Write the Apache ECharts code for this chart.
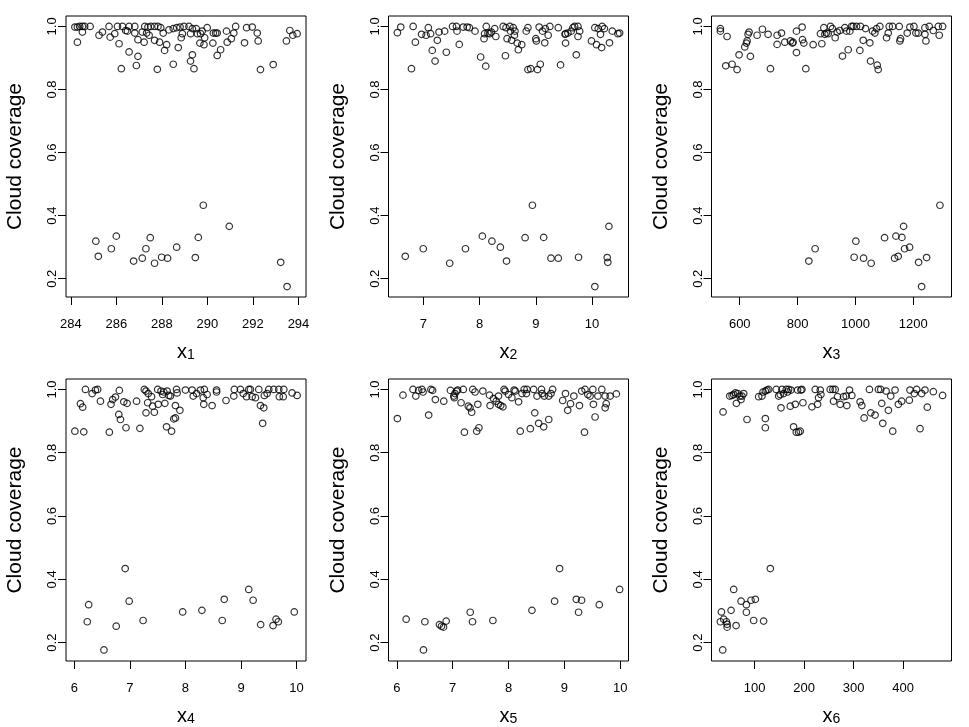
<!DOCTYPE html>
<html><head><meta charset="utf-8">
<script src="https://cdn.jsdelivr.net/npm/echarts@6/dist/echarts.min.js"></script>
<style>html,body{margin:0;padding:0;background:#fff}#c{width:969px;height:727px}</style>
</head><body><div id="c"></div>
<script>
// ---- Data ----
const x1Low=[285.10,285.21,285.78,286.00,286.76,287.14,287.30,287.49,287.68,287.99,288.25,288.65,289.47,289.60,289.82,290.96,293.22,293.50];
const y1Low=[0.319,0.271,0.295,0.335,0.256,0.265,0.295,0.330,0.249,0.268,0.265,0.300,0.267,0.331,0.433,0.366,0.252,0.175];
const x1High=[284.18,284.29,284.39,284.51,284.61,284.85,284.51,284.29,285.24,285.39,285.68,285.73,285.93,286.05,286.27,286.12,286.41,286.49,286.56,286.56,286.81,286.81,286.95,286.95,286.88,286.22,287.14,287.22,287.25,287.39,287.33,287.44,287.51,287.68,287.83,287.95,287.68,287.90,288.06,288.21,288.12,287.80,288.31,288.50,288.65,288.80,288.97,289.19,288.90,288.85,288.72,288.50,289.26,289.34,289.51,289.56,289.70,289.77,289.88,289.34,289.26,289.41,289.67,289.85,289.99,290.26,290.36,290.43,290.24,290.58,290.43,290.84,291.16,291.24,291.05,290.87,291.63,291.72,291.97,292.19,292.23,292.33,292.89,293.47,293.62,293.75,293.94];
const y1High=[0.998,0.998,1.0,1.0,1.0,1.0,0.982,0.950,0.972,0.982,1.0,0.966,0.977,1.0,1.0,0.945,0.987,0.985,1.0,0.919,1.0,0.979,0.958,0.905,0.876,0.866,0.982,0.950,1.0,0.998,0.979,0.972,1.0,1.0,1.0,0.996,0.956,0.950,0.979,0.942,0.924,0.864,0.989,0.993,0.996,0.998,1.0,1.0,0.977,0.964,0.933,0.880,0.977,0.993,0.993,0.977,0.977,0.985,0.964,0.910,0.890,0.866,0.947,0.942,0.996,0.979,0.979,0.979,0.947,0.926,0.908,0.985,0.979,1.0,0.961,0.950,0.948,0.996,0.998,0.979,0.954,0.863,0.879,0.954,0.987,0.972,0.977];

const x2Low=[6.68,7.00,7.47,7.75,8.05,8.22,8.37,8.48,8.81,8.94,9.14,9.27,9.40,9.76,10.05,10.27,10.28,10.30];
const y2Low=[0.271,0.295,0.249,0.295,0.335,0.319,0.300,0.256,0.330,0.433,0.331,0.265,0.265,0.268,0.175,0.267,0.252,0.366];
const x2High=[6.54,6.60,6.82,6.86,6.97,7.05,7.09,7.13,7.16,7.21,7.25,7.28,7.38,7.41,6.79,7.52,7.59,7.60,7.64,7.71,7.78,7.82,7.92,8.02,8.11,8.08,8.09,8.12,8.15,8.18,8.21,8.27,8.29,8.42,8.47,8.46,8.49,8.54,8.55,8.57,8.60,8.63,8.62,8.67,8.75,8.69,8.83,8.86,9.00,9.01,9.06,9.12,9.16,9.17,9.22,9.25,9.40,9.52,9.53,9.53,9.57,9.63,9.66,9.69,9.75,9.72,9.78,9.75,8.86,8.91,9.03,9.08,9.44,9.99,10.08,10.17,10.31,10.05,10.11,10.18,10.15,10.22,10.36,10.46,10.49];
const y2High=[0.980,0.998,1.0,0.950,0.975,0.972,0.996,0.977,0.924,0.890,0.956,0.982,0.985,0.918,0.866,1.0,1.0,0.985,0.943,0.998,0.998,0.996,0.985,0.903,0.874,0.961,0.977,1.0,0.979,0.977,0.982,0.993,0.968,1.0,0.996,0.907,0.961,1.0,0.985,0.956,0.996,0.985,0.972,0.947,0.942,0.926,0.985,0.996,0.961,0.954,0.998,0.985,0.948,0.993,0.972,1.0,0.996,0.975,0.977,0.947,0.979,0.985,0.996,1.0,1.0,0.910,0.985,0.968,0.863,0.866,0.863,0.880,0.878,0.954,0.942,0.933,0.948,0.996,0.993,1.0,0.975,0.993,0.985,0.977,0.979];

const x3Low=[838.8,860.6,995.5,1001.4,1028.0,1054.3,1100.7,1135.3,1139.8,1147.8,1160.6,1166.4,1169.9,1187.2,1218.3,1228.7,1246.0,1292.0];
const y3Low=[0.256,0.295,0.268,0.319,0.265,0.249,0.330,0.265,0.335,0.271,0.331,0.366,0.295,0.300,0.252,0.175,0.267,0.433];
const x3High=[533.1,533.1,556.2,551.6,573.5,590.8,597.7,617.3,623.1,625.4,628.8,632.3,636.9,660.0,678.4,698.0,706.1,729.2,729.2,744.2,755.7,775.3,782.2,784.5,796.1,796.1,815.7,816.8,821.5,828.4,853.7,879.1,883.7,890.7,894.1,899.9,905.7,913.7,920.6,929.9,936.8,946.0,955.2,963.3,969.1,974.9,980.6,986.4,992.2,1003.7,1015.2,1017.5,1026.8,1034.8,1049.8,1052.1,1059.1,1067.1,1072.9,1075.2,1078.7,1084.4,1107.5,1113.3,1116.7,1128.3,1151.3,1155.9,1153.6,1179.0,1188.2,1202.1,1209.0,1217.1,1240.1,1240.1,1243.6,1255.1,1269.0,1286.3,1289.7,1301.3];
const y3High=[0.993,0.985,0.968,0.875,0.880,0.863,0.910,0.935,0.947,0.954,0.975,0.982,0.905,0.972,0.991,0.975,0.866,0.972,0.943,0.979,0.950,0.954,0.947,0.950,0.985,0.917,0.998,0.958,0.947,0.866,0.942,0.977,0.945,0.996,0.975,0.979,0.977,1.0,0.993,0.964,0.982,0.987,0.906,0.996,0.985,0.926,0.985,1.0,1.0,1.0,0.924,1.0,0.956,0.993,0.948,0.890,0.985,0.979,0.993,0.877,0.863,1.0,0.964,0.979,1.0,1.0,1.0,0.961,0.954,0.979,0.998,1.0,0.979,0.979,0.975,0.996,0.954,1.0,0.987,1.0,0.972,1.0];

const x4Low=[6.258,6.233,6.533,6.754,6.915,6.987,7.238,7.950,8.296,8.662,8.698,9.139,9.218,9.354,9.577,9.631,9.672,9.959];
const y4Low=[0.320,0.266,0.177,0.252,0.434,0.331,0.270,0.297,0.302,0.270,0.337,0.368,0.334,0.257,0.254,0.274,0.266,0.297];
const x4High=[6.01,6.17,6.11,6.15,6.20,6.32,6.38,6.42,6.47,6.63,6.66,6.69,6.74,6.80,6.83,6.81,6.89,6.95,6.93,7.12,7.18,7.26,7.29,7.33,7.39,7.41,7.32,7.29,7.44,7.50,7.56,7.59,7.61,7.67,7.70,7.73,7.51,7.63,7.82,7.90,7.79,7.82,7.66,7.75,7.84,7.85,8.00,8.12,8.14,8.20,8.27,8.34,8.32,8.33,8.39,8.48,8.56,8.56,8.73,8.87,8.88,8.99,9.04,9.10,9.14,9.17,9.20,9.26,9.32,9.35,9.41,9.39,9.42,9.47,9.50,9.59,9.68,9.69,9.76,9.77,9.92,10.01];
const y4High=[0.868,0.866,0.955,0.944,1.0,0.987,0.998,1.0,0.963,0.865,0.953,0.968,0.976,0.921,0.905,0.997,0.961,0.956,0.879,0.963,0.877,1.0,0.995,0.987,0.977,0.947,0.958,0.926,0.928,1.0,0.995,0.984,0.992,0.995,0.981,0.979,0.953,0.956,0.949,0.934,0.907,0.910,0.882,0.868,1.0,0.989,0.998,0.998,0.979,0.987,0.998,1.0,0.974,0.953,0.984,0.949,0.992,0.998,0.965,0.979,1.0,1.0,0.987,0.977,1.0,1.0,0.977,0.974,1.0,0.949,0.942,0.893,0.981,0.987,1.0,1.0,1.0,0.977,0.977,1.0,0.989,0.981];

const x5Low=[6.167,6.502,6.477,6.763,6.799,6.835,6.884,7.314,7.355,7.720,8.419,8.825,8.914,9.213,9.308,9.254,9.625,9.989];
const y5Low=[0.274,0.266,0.177,0.257,0.252,0.249,0.268,0.296,0.266,0.270,0.302,0.331,0.434,0.337,0.334,0.296,0.320,0.368];
const x5High=[6.01,6.11,6.29,6.34,6.39,6.45,6.47,6.57,6.61,6.64,6.69,6.84,6.96,7.02,7.03,7.04,7.07,7.09,7.15,7.19,7.21,7.28,7.31,7.34,7.36,7.40,7.45,7.43,7.47,7.54,7.66,7.67,7.73,7.78,7.82,7.82,7.86,7.90,7.92,7.94,8.00,8.06,8.10,8.12,8.18,8.24,8.28,8.33,8.32,8.21,8.39,8.45,8.47,8.51,8.54,8.59,8.60,8.63,8.64,8.72,8.72,8.76,8.79,8.97,9.02,9.06,9.11,9.17,9.27,9.31,9.37,9.36,9.42,9.46,9.51,9.52,9.55,9.60,9.67,9.73,9.75,9.73,9.82,9.93];
const y5High=[0.908,0.982,1.0,0.979,0.997,1.0,0.992,0.919,1.0,0.997,0.968,0.963,0.997,0.979,0.974,0.987,0.995,0.998,0.958,1.0,0.865,0.947,0.942,0.928,1.0,0.992,0.953,0.868,0.879,0.995,0.982,0.949,0.971,0.963,0.979,0.953,0.949,0.945,1.0,0.995,0.984,0.974,0.998,0.995,0.961,0.987,1.0,1.0,0.987,0.868,0.876,1.0,0.926,0.979,0.893,1.0,0.987,0.882,0.979,0.905,0.979,0.987,1.0,0.965,0.987,0.934,0.955,0.979,0.949,0.995,1.0,0.865,0.984,0.979,1.0,0.953,0.913,0.979,1.0,0.979,0.955,0.942,0.979,0.986];

const x6Low=[32.9,30.8,37.5,35.5,42.9,44.4,44.4,52.4,57.7,62.5,72.6,83.3,83.3,92.7,101.4,98.0,118.1,131.7];
const y6Low=[0.297,0.266,0.274,0.177,0.266,0.258,0.249,0.302,0.368,0.254,0.331,0.320,0.296,0.334,0.337,0.270,0.268,0.434];
const x6High=[36.2,49.7,54.4,57.7,61.1,63.1,65.8,69.8,72.5,74.5,77.9,84.6,108.1,114.8,116.9,121.6,124.9,128.3,121.6,121.6,143.7,148.5,151.8,153.2,155.2,158.5,163.9,166.6,168.6,172.0,173.3,178.7,182.1,184.1,186.8,188.8,192.1,193.5,195.5,197.5,215.7,222.4,227.1,229.1,232.5,233.8,252.6,258.0,259.3,262.7,267.4,272.8,279.5,284.9,286.2,291.6,296.3,313.1,316.5,321.2,331.9,334.6,343.3,350.0,354.7,356.7,358.8,365.5,370.2,374.9,378.9,383.6,390.3,397.0,412.5,413.8,422.6,427.3,434.1,437.4,444.1,448.8,460.9,479.7];
const y6High=[0.929,0.979,0.981,0.984,0.989,0.956,0.987,0.979,0.968,0.979,0.987,0.905,0.977,0.979,0.992,0.995,0.998,1.0,0.908,0.879,1.0,0.979,0.984,0.942,1.0,0.987,1.0,0.992,1.0,0.947,0.998,0.882,0.953,0.865,0.998,0.865,0.868,0.998,1.0,0.958,0.945,1.0,0.953,0.974,0.998,0.984,1.0,1.0,0.963,1.0,0.977,0.953,0.977,0.979,0.949,0.998,0.981,0.961,0.949,0.910,1.0,0.926,0.919,1.0,1.0,0.956,0.893,0.995,0.934,0.979,0.868,0.998,0.953,0.963,0.966,0.998,0.987,1.0,0.876,0.987,0.998,0.944,0.993,0.981];

const xTicks=[[284,286,288,290,292,294],[7,8,9,10],[600,800,1000,1200],[6,7,8,9,10],[6,7,8,9,10],[100,200,300,400]];
const yTicks=[0.2,0.4,0.6,0.8,1.0];
const yTitle='Cloud coverage';
const xSub=['1','2','3','4','5','6'];

// ---- Build chart ----
const panels=[[x1Low,y1Low,x1High,y1High],[x2Low,y2Low,x2High,y2High],[x3Low,y3Low,x3High,y3High],
              [x4Low,y4Low,x4High,y4High],[x5Low,y5Low,x5High,y5High],[x6Low,y6Low,x6High,y6High]];
const FONT='"Liberation Sans", Arial, Helvetica, sans-serif';
const lefts=[66,388.5,711.5], tops=[16,379], heights=[281,282], W=240;

function padRange(a){const mn=Math.min(...a),mx=Math.max(...a),p=(mx-mn)*0.04;return [mn-p,mx+p];}
const allY=[].concat(...panels.map(p=>p[1].concat(p[3])));
const yr=padRange(allY);

const grid=[],xAxis=[],yAxis=[],series=[];
panels.forEach((p,i)=>{
  const r=Math.floor(i/3),c=i%3;
  const xs=p[0].concat(p[2]), ys=p[1].concat(p[3]);
  const xr=padRange(xs);
  grid.push({left:lefts[c],top:tops[r],width:W,height:heights[r],show:true,borderColor:'#000',borderWidth:1,backgroundColor:'rgba(0,0,0,0)',containLabel:false});
  xAxis.push({gridIndex:i,type:'value',min:xr[0],max:xr[1],
    axisLine:{show:false,onZero:false},
    axisTick:{show:true,length:8,customValues:xTicks[i],lineStyle:{color:'#000',width:1}},
    axisLabel:{customValues:xTicks[i],color:'#000',fontSize:13,fontFamily:FONT,margin:21,formatter:v=>String(v)},
    splitLine:{show:false},
    name:'{x|x}{s|'+xSub[i]+'}',nameLocation:'middle',nameGap:35,
    nameTextStyle:{color:'#000',rich:{x:{fontSize:20,fontFamily:FONT,color:'#000',lineHeight:30,verticalAlign:'bottom'},
                                       s:{fontSize:14,fontFamily:FONT,color:'#000',lineHeight:12,verticalAlign:'bottom'}}}
  });
  yAxis.push({gridIndex:i,type:'value',min:yr[0],max:yr[1],
    axisLine:{show:false,onZero:false},
    axisTick:{show:true,length:8,customValues:yTicks,lineStyle:{color:'#000',width:1}},
    axisLabel:{customValues:yTicks,color:'#000',fontSize:13,fontFamily:FONT,margin:7,rotate:90,formatter:v=>v.toFixed(1)},
    splitLine:{show:false},
    name:yTitle,nameLocation:'middle',nameGap:40,
    nameTextStyle:{color:'#000',fontSize:21,fontFamily:FONT}
  });
  series.push({type:'scatter',xAxisIndex:i,yAxisIndex:i,
    data:xs.map((v,k)=>[v,ys[k]]),
    symbol:'circle',symbolSize:6.5,silent:true,
    itemStyle:{color:'rgba(0,0,0,0)',borderColor:'#000',borderWidth:1.2},
    emphasis:{disabled:true}});
});

const chart=echarts.init(document.getElementById('c'),null,{renderer:'canvas'});
chart.setOption({backgroundColor:'#fff',animation:false,grid,xAxis,yAxis,series});
</script></body></html>
